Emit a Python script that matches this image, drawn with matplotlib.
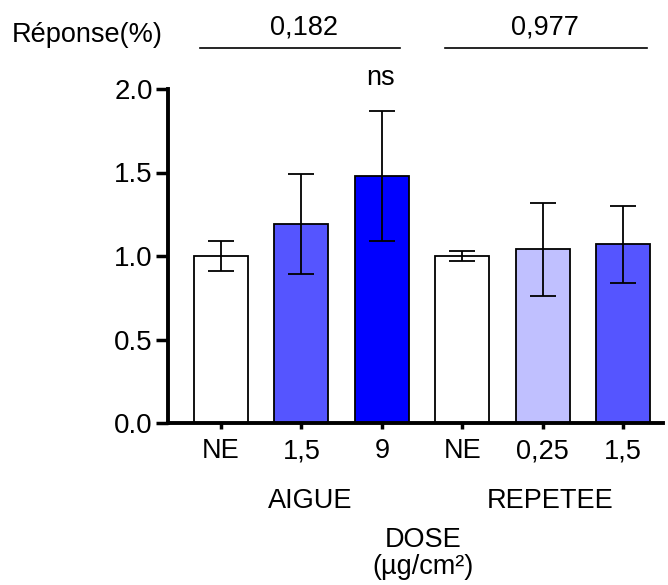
import matplotlib
matplotlib.use("Agg")
import matplotlib.pyplot as plt
import numpy as np

categories = ["NE", "1,5", "9", "NE", "0,25", "1,5"]
means = [1.00, 1.19, 1.48, 1.00, 1.04, 1.07]
errors = [0.09, 0.30, 0.39, 0.03, 0.28, 0.23]
colors = ["#FFFFFF", "#5555FF", "#0000FF", "#FFFFFF", "#C0C0FF", "#5555FF"]
groups = ["AIGUE", "REPETEE"]
pvalues = ["0,182", "0,977"]
yticks = [0.0, 0.5, 1.0, 1.5, 2.0]
ytick_labels = ["0.0", "0.5", "1.0", "1.5", "2.0"]

plt.rcParams['font.family'] = ['Liberation Sans', 'DejaVu Sans']

fig = plt.figure(figsize=(6.68, 5.85), dpi=100)
ax = fig.add_axes([168/668, (585-423)/585, (663-168)/668, (423-89)/585])

x = np.arange(len(categories))
ax.bar(x, means, width=0.67, color=colors, edgecolor="black", linewidth=1.3, zorder=2)
ax.errorbar(x, means, yerr=errors, fmt="none", ecolor="black", elinewidth=1.3,
            capsize=9.7, capthick=1.3, zorder=3)

ax.set_xlim(-0.658, 5.497)
ax.set_ylim(0, 2.0)
ax.set_yticks(yticks)
ax.set_yticklabels(ytick_labels, fontsize=20)
ax.set_xticks(x)
ax.set_xticklabels(categories, fontsize=19.5)
ax.tick_params(axis="y", length=9, width=2.5, pad=2)
ax.tick_params(axis="x", length=4, width=2.5, pad=7)
for s in ["top", "right"]:
    ax.spines[s].set_visible(False)
for s in ["left", "bottom"]:
    ax.spines[s].set_linewidth(2.8)

# ns annotation
fig.text(381/668, 1 - 78/585, "ns", ha="center", va="center", fontsize=19.5)

# group labels
fig.text(310/668, 1 - 501/585, groups[0], ha="center", va="center", fontsize=19.5)
fig.text(550/668, 1 - 501/585, groups[1], ha="center", va="center", fontsize=19.5)
fig.text(423/668, 1 - 540/585, "DOSE", ha="center", va="center", fontsize=19.5)
fig.text(423/668, 1 - 567/585, "(µg/cm²)", ha="center", va="center", fontsize=19.5)

# header
fig.text(12/668, 1 - 35/585, "Réponse(%)", ha="left", va="center", fontsize=19.5)
fig.add_artist(plt.Line2D([200/668, 400/668], [1 - 48/585, 1 - 48/585], color="black", lw=1.2))
fig.add_artist(plt.Line2D([445/668, 647/668], [1 - 48/585, 1 - 48/585], color="black", lw=1.2))
fig.text(304/668, 1 - 27/585, pvalues[0], ha="center", va="center", fontsize=19.5)
fig.text(545/668, 1 - 27/585, pvalues[1], ha="center", va="center", fontsize=19.5)

fig.savefig("out.png", dpi=100)
